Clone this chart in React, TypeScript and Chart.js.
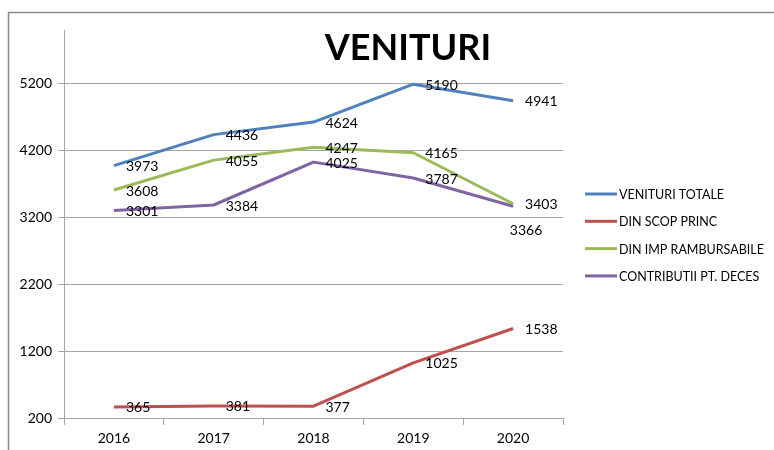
import React, { useEffect, useRef } from "react";
import { Chart, registerables } from "chart.js";

Chart.register(...registerables);

// ---- data ----
const YEARS = ["2016", "2017", "2018", "2019", "2020"];
const VENITURI_TOTALE = [3973, 4436, 4624, 5190, 4941];
const DIN_SCOP_PRINC = [365, 381, 377, 1025, 1538];
const DIN_IMP_RAMBURSABILE = [3608, 4055, 4247, 4165, 3403];
const CONTRIBUTII_PT_DECES = [3301, 3384, 4025, 3787, 3366];
const SERIES_NAMES = [
  "VENITURI TOTALE",
  "DIN SCOP PRINC",
  "DIN IMP RAMBURSABILE",
  "CONTRIBUTII PT. DECES",
];
const Y_TICKS = [200, 1200, 2200, 3200, 4200, 5200];
const Y_MIN = 200;
const Y_MAX = 6000;
const TITLE = "VENITURI";

// ---- styles ----
const SERIES_COLORS = ["#4F81BD", "#C0504D", "#9BBB59", "#8064A2"];
const FONT = "Lato, 'Open Sans', sans-serif";
const GRID = "#a6a6a6";
// label placement: default right of point; these [dataset, index] go below
const LABELS_BELOW: Array<[number, number]> = [[3, 4]];

const framePlugin = {
  id: "frame",
  beforeDraw(chart: any) {
    const ctx = chart.ctx;
    ctx.save();
    ctx.fillStyle = "#ffffff";
    ctx.fillRect(0, 0, chart.width, chart.height);
    ctx.strokeStyle = "#8a8a8a";
    ctx.lineWidth = 1.5;
    ctx.strokeRect(8.5, 12.5, chart.width + 50, chart.height + 50);
    ctx.restore();
  },
};

const titlePlugin = {
  id: "customTitle",
  afterDraw(chart: any) {
    const ctx = chart.ctx;
    ctx.save();
    ctx.font = `bold 36px ${FONT}`;
    ctx.fillStyle = "#000";
    ctx.textAlign = "center";
    ctx.textBaseline = "alphabetic";
    ctx.fillText(TITLE, 408, 60);
    ctx.restore();
  },
};

const labelPlugin = {
  id: "pointLabels",
  afterDatasetsDraw(chart: any) {
    const ctx = chart.ctx;
    ctx.save();
    ctx.font = `14px ${FONT}`;
    ctx.fillStyle = "#000";
    chart.data.datasets.forEach((ds: any, di: number) => {
      const meta = chart.getDatasetMeta(di);
      meta.data.forEach((pt: any, i: number) => {
        const below = LABELS_BELOW.some(([a, b]) => a === di && b === i);
        const text = String(ds.data[i]);
        if (below) {
          ctx.textAlign = "center";
          ctx.textBaseline = "middle";
          ctx.fillText(text, pt.x + 13, pt.y + 24);
        } else {
          ctx.textAlign = "left";
          ctx.textBaseline = "middle";
          ctx.fillText(text, pt.x + 12, pt.y + 1);
        }
      });
    });
    ctx.restore();
  },
};

const legendPlugin = {
  id: "customLegend",
  afterDraw(chart: any) {
    const ctx = chart.ctx;
    const area = chart.chartArea;
    ctx.save();
    ctx.font = `12.5px ${FONT}`;
    ctx.textAlign = "left";
    ctx.textBaseline = "middle";
    chart.data.datasets.forEach((ds: any, di: number) => {
      const y = 194 + di * 27.3;
      const x0 = area.right + 22;
      ctx.strokeStyle = ds.borderColor;
      ctx.lineWidth = 3;
      ctx.beginPath();
      ctx.moveTo(x0, y);
      ctx.lineTo(x0 + 32, y);
      ctx.stroke();
      ctx.fillStyle = "#000";
      ctx.fillText(ds.label, x0 + 34, y + 1);
    });
    ctx.restore();
  },
};

export default function App() {
  const ref = useRef<HTMLCanvasElement | null>(null);

  useEffect(() => {
    if (!ref.current) return;
    const series = [VENITURI_TOTALE, DIN_SCOP_PRINC, DIN_IMP_RAMBURSABILE, CONTRIBUTII_PT_DECES];
    const chart = new Chart(ref.current, {
      type: "line",
      data: {
        labels: YEARS,
        datasets: series.map((d, i) => ({
          label: SERIES_NAMES[i],
          data: d,
          borderColor: SERIES_COLORS[i],
          backgroundColor: SERIES_COLORS[i],
          borderWidth: 3,
          pointRadius: 0,
          pointHoverRadius: 0,
          tension: 0,
          fill: false,
          borderJoinStyle: "round" as const,
        })),
      },
      options: {
        animation: false,
        responsive: false,
        maintainAspectRatio: false,
        layout: { padding: { top: 30, right: 211, left: 0, bottom: 0 } },
        plugins: {
          legend: { display: false },
          title: { display: false },
          tooltip: { enabled: false },
        },
        scales: {
          x: {
            type: "category",
            offset: true,
            grid: {
              offset: true,
              drawOnChartArea: false,
              tickLength: 7,
              color: GRID,
            },
            border: { color: GRID },
            ticks: {
              color: "#000",
              font: { family: FONT, size: 14 },
              padding: 5,
              maxRotation: 0,
            },
            afterFit: (s: any) => {
              s.height = 32;
            },
          },
          y: {
            type: "linear",
            min: Y_MIN,
            max: Y_MAX,
            afterBuildTicks: (s: any) => {
              s.ticks = Y_TICKS.map((v) => ({ value: v }));
            },
            grid: { color: GRID, tickLength: 6 },
            border: { color: GRID },
            ticks: {
              color: "#000",
              font: { family: FONT, size: 14 },
              padding: 6,
              callback: (v: any) => String(v),
            },
            afterFit: (s: any) => {
              s.width = 64;
            },
          },
        },
      },
      plugins: [framePlugin, labelPlugin, titlePlugin, legendPlugin],
    });
    return () => chart.destroy();
  }, []);

  return (
    <div style={{ position: "fixed", left: 0, top: 0, width: 774, height: 450 }}>
      <canvas ref={ref} width={774} height={450} style={{ width: 774, height: 450 }} />
    </div>
  );
}
